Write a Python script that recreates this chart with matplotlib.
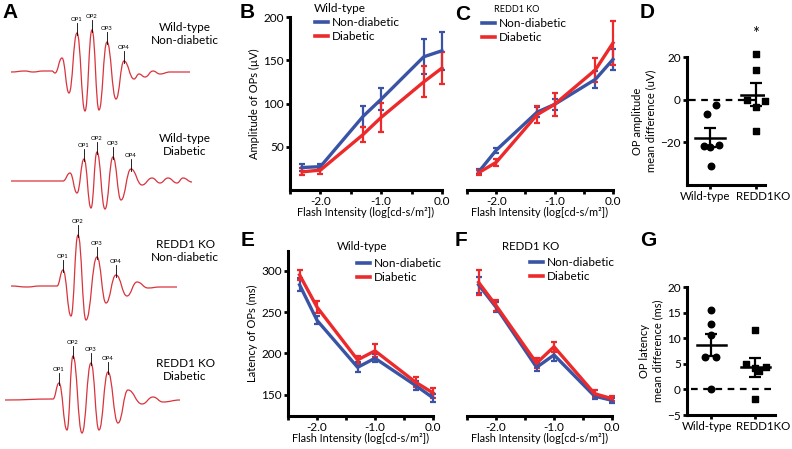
import matplotlib
matplotlib.use("Agg")
import matplotlib.pyplot as plt
import matplotlib.transforms as mtransforms
from matplotlib.lines import Line2D
from matplotlib.path import Path
from matplotlib.patches import PathPatch

plt.rcParams['font.family'] = ['Lato', 'DejaVu Sans']

W, H = 792, 449
BLUE = "#3a54a5"
RED = "#ed2a2b"
TRACE = "#d9333c"

# ---------------- data ----------------
flash = [-2.3, -2.0, -1.3, -1.0, -0.3, 0.0]

amp_wt_nd = [26, 27, 85, 105, 154, 161]
amp_wt_nd_err = [4, 3, 12, 13, 20, 22]
amp_wt_d = [21, 23, 64, 84, 125, 141]
amp_wt_d_err = [4, 4, 9, 17, 18, 19]

amp_ko_nd = [21, 46, 90, 99, 128, 151]
amp_ko_nd_err = [3, 3, 6, 6, 10, 12]
amp_ko_d = [20, 32, 87, 99, 139, 170]
amp_ko_d_err = [3, 4, 10, 13, 14, 25]

lat_wt_nd = [283, 240, 183, 194, 161, 146]
lat_wt_nd_err = [8, 5, 6, 5, 6, 5]
lat_wt_d = [295, 256, 192, 203, 165, 152]
lat_wt_d_err = [6, 7, 5, 8, 6, 6]

lat_ko_nd = [283, 256, 183, 198, 148, 143]
lat_ko_nd_err = [10, 6, 5, 7, 3, 3]
lat_ko_d = [286, 258, 188, 208, 151, 145]
lat_ko_d_err = [15, 7, 6, 6, 4, 3]

groups = ["Wild-type", "REDD1KO"]

ampdiff_wt = [-2.7, -6.7, -21.9, -22.4, -21.1, -30.9]
ampdiff_wt_jit = [0.13, -0.07, -0.14, 0.01, 0.2, 0.02]
ampdiff_ko = [21.3, 13.9, -0.3, -0.6, -3.5, -14.9]
ampdiff_ko_jit = [0, 0, -0.2, 0.2, 0, 0]
ampdiff_mean = [-17.8, 2.4]
ampdiff_sem = [4.3, 5.3]

latdiff_wt = [15.6, 12.7, 10.6, 6.4, 6.4, 0.0]
latdiff_wt_jit = [0, 0, 0, -0.13, 0.1, 0]
latdiff_ko = [11.6, 5.0, 4.1, 4.4, 3.6, -1.9]
latdiff_ko_jit = [0, -0.2, 0, 0.25, 0.08, 0]
latdiff_mean = [8.7, 4.3]
latdiff_sem = [2.2, 1.9]

# example ERG traces (peaks / troughs, image pixels)
tr_wt_nd_x = [11, 25, 33, 43, 52, 55, 62, 69, 77, 85, 92, 99, 107, 116, 124, 134, 139, 145, 153, 160, 170, 190]
tr_wt_nd_y = [72, 71, 72, 71, 71, 73, 58, 93, 33, 111, 30, 110, 42, 99, 61, 79, 74, 77, 71, 74, 72, 72]
tr_wt_d_x = [11, 63, 70, 77, 84, 91, 97, 105, 113, 121, 131, 142, 152, 160, 168, 177, 183, 192]
tr_wt_d_y = [181, 181, 173, 193, 159, 208, 152, 209, 157, 200, 169, 185, 178, 183, 178, 183, 178, 182]
tr_ko_nd_x = [11, 27, 40, 57, 63, 71, 78, 86, 97, 106, 116, 127, 137, 148, 160, 177]
tr_ko_nd_y = [286, 287, 286, 286, 270, 316, 235, 320, 257, 303, 275, 296, 282, 288, 287, 287]
tr_ko_d_x = [5, 53, 59, 67, 73, 82, 91, 99, 108, 118, 128, 142, 153, 163, 180]
tr_ko_d_y = [400, 399, 383, 430, 356, 433, 363, 430, 372, 423, 390, 404, 397, 402, 400]
op_idx = [
    [8, 10, 12, 14],
    [4, 6, 8, 10],
    [4, 6, 8, 10],
    [2, 4, 6, 8],
]
trace_labels = [
    ("Wild-type\nNon-diabetic", 34),
    ("Wild-type\nDiabetic", 145),
    ("REDD1 KO\nNon-diabetic", 251),
    ("REDD1 KO\nDiabetic", 370),
]


def px_axes(fig, left, top, right, bottom):
    return fig.add_axes([left / W, 1 - bottom / H, (right - left) / W, (bottom - top) / H])


def ftext(fig, x, y, s, **kw):
    fig.text(x / W, 1 - y / H, s, **kw)


def smooth_path(xs, ys):
    verts = [(xs[0], ys[0])]
    codes = [Path.MOVETO]
    for i in range(len(xs) - 1):
        d = (xs[i + 1] - xs[i]) * 0.45
        verts += [(xs[i] + d, ys[i]), (xs[i + 1] - d, ys[i + 1]), (xs[i + 1], ys[i + 1])]
        codes += [Path.CURVE4] * 3
    return Path(verts, codes)


def style_axes(ax, show_left=True):
    for s in ["top", "right"]:
        ax.spines[s].set_visible(False)
    ax.spines["bottom"].set_linewidth(2.2)
    ax.spines["left"].set_linewidth(2.2)
    ax.tick_params(width=2.0, length=3, labelsize=8.5, pad=1.5)
    if not show_left:
        ax.spines["left"].set_visible(False)
        ax.set_yticks([])


def line_panel(ax, nd, nd_err, d, d_err):
    for vals, err, c in [(nd, nd_err, BLUE), (d, d_err, RED)]:
        ax.errorbar(flash, vals, yerr=err, color=c, lw=2.4, elinewidth=1.6,
                     capsize=2.2, capthick=1.6, clip_on=False)
    ax.set_xlim(-2.5, 0.0)
    ax.set_xticks([-2.5, -2.0, -1.5, -1.0, -0.5, 0.0])
    ax.set_xticklabels(["", "-2.0", "", "-1.0", "", "0.0"])
    ax.set_xlabel("Flash Intensity (log[cd-s/m\u00b2])", fontsize=7.8, labelpad=0)


def legend(ax, x, y, size=8.5):
    h = [Line2D([], [], color=BLUE, lw=2.6), Line2D([], [], color=RED, lw=2.6)]
    ax.legend(h, ["Non-diabetic", "Diabetic"], loc="upper left",
              bbox_to_anchor=(x / W, 1 - y / H), bbox_transform=ax.figure.transFigure,
              frameon=False, borderpad=0, borderaxespad=0, handlelength=1.1,
              handletextpad=0.3, labelspacing=0.25, fontsize=size)


def dot_panel(ax, wt, wt_jit, ko, ko_jit, mean, sem, dash_end):
    ax.scatter([0 + j for j in wt_jit], wt, marker="o", s=22, color="black", zorder=3, clip_on=False)
    ax.scatter([1 + j for j in ko_jit], ko, marker="s", s=20, color="black", zorder=3, clip_on=False)
    for i in range(2):
        ax.plot([i - 0.33, i + 0.33], [mean[i], mean[i]], color="black", lw=1.8, zorder=4)
        ax.errorbar([i], [mean[i]], yerr=[sem[i]], color="black", elinewidth=1.6,
                    capsize=4, capthick=1.6, zorder=4)
    ax.plot([-0.45, dash_end], [0, 0], ls=(0, (3, 2.5)), color="black", lw=1.6, clip_on=False, zorder=2)
    ax.set_xticks([0, 1])
    ax.set_xticklabels(groups, fontsize=8.3)
    # the two group labels sit slightly apart from their ticks
    for lab, dx in zip(ax.get_xticklabels(), [-4.5, 7.5]):
        lab.set_transform(lab.get_transform() +
                          mtransforms.ScaledTranslation(dx / 100, 0, ax.figure.dpi_scale_trans))


fig = plt.figure(figsize=(W / 100, H / 100), dpi=100)

# ---------------- A ----------------
axA = fig.add_axes([0, 0, 200 / W, 1])
axA.set_xlim(0, 200)
axA.set_ylim(H, 0)
axA.axis("off")
traces = [(tr_wt_nd_x, tr_wt_nd_y), (tr_wt_d_x, tr_wt_d_y),
          (tr_ko_nd_x, tr_ko_nd_y), (tr_ko_d_x, tr_ko_d_y)]
for k, (xs, ys) in enumerate(traces):
    axA.add_patch(PathPatch(smooth_path(xs, ys), fill=False, ec=TRACE, lw=0.9))
    for n, i in enumerate(op_idx[k]):
        axA.plot([xs[i], xs[i]], [ys[i] - 10, ys[i] + 2], color="black", lw=0.6)
        axA.text(xs[i], ys[i] - 11, "OP%d" % (n + 1), fontsize=4.3, ha="center", va="bottom")
    label, ly = trace_labels[k]
    axA.text(185, ly, label, fontsize=8.5, ha="center", va="center", linespacing=1.15)

# ---------------- B ----------------
axB = px_axes(fig, 290, 17, 442, 190)
style_axes(axB)
line_panel(axB, amp_wt_nd, amp_wt_nd_err, amp_wt_d, amp_wt_d_err)
axB.set_ylim(0, 200)
axB.set_yticks([50, 100, 150, 200])
axB.set_ylabel("Amplitude of OPs (\u00b5V)", fontsize=8, labelpad=2)
legend(axB, 315, 17)
ftext(fig, 314, 9, "Wild-type", fontsize=8.5, va="center")

# ---------------- C ----------------
axC = px_axes(fig, 467, 17, 613, 190)
style_axes(axC, show_left=False)
line_panel(axC, amp_ko_nd, amp_ko_nd_err, amp_ko_d, amp_ko_d_err)
axC.set_ylim(0, 200)
legend(axC, 482, 18)
ftext(fig, 494, 10, "REDD1 KO", fontsize=6.5, va="center")

# ---------------- D ----------------
axD = px_axes(fig, 687, 57, 765, 185)
style_axes(axD)
dot_panel(axD, ampdiff_wt, ampdiff_wt_jit, ampdiff_ko, ampdiff_ko_jit, ampdiff_mean, ampdiff_sem, 1.4)
axD.set_xlim(-0.5, 1.2)
axD.set_ylim(-40, 20)
axD.set_yticks([-20, 0, 20])
axD.set_ylabel("OP amplitude\nmean difference (uV)", fontsize=8, labelpad=3, linespacing=1.2)
axD.text(1, 31, "*", fontsize=12, ha="center", va="center", clip_on=False)

# ---------------- E ----------------
axE = px_axes(fig, 288, 251, 433, 416)
style_axes(axE)
line_panel(axE, lat_wt_nd, lat_wt_nd_err, lat_wt_d, lat_wt_d_err)
axE.set_ylim(124, 324)
axE.set_yticks([150, 200, 250, 300])
axE.set_ylabel("Latency of OPs (ms)", fontsize=8, labelpad=2)
legend(axE, 357, 258)
ftext(fig, 337, 247, "Wild-type", fontsize=8.3, va="center")

# ---------------- F ----------------
axF = px_axes(fig, 467, 251, 612, 416)
style_axes(axF, show_left=False)
line_panel(axF, lat_ko_nd, lat_ko_nd_err, lat_ko_d, lat_ko_d_err)
axF.set_ylim(124, 324)
legend(axF, 530, 257)
ftext(fig, 502, 247, "REDD1 KO", fontsize=8.3, va="center")

# ---------------- G ----------------
axG = px_axes(fig, 687, 287, 775, 415)
style_axes(axG)
dot_panel(axG, latdiff_wt, latdiff_wt_jit, latdiff_ko, latdiff_ko_jit, latdiff_mean, latdiff_sem, 1.45)
axG.set_xlim(-0.55, 1.45)
axG.set_ylim(-5, 20)
axG.set_yticks([-5, 0, 5, 10, 15, 20])
axG.set_ylabel("OP latency\nmean difference (ms)", fontsize=8, labelpad=3, linespacing=1.2)

# panel letters
for letter, x, y in [("A", 2, 13), ("B", 240, 13), ("C", 455, 15), ("D", 640, 13),
                     ("E", 241, 241), ("F", 455, 241), ("G", 640, 241)]:
    ftext(fig, x, y, letter, fontsize=15, fontweight="bold",
          family="Liberation Sans", va="center")

fig.savefig("out.png", dpi=100)
